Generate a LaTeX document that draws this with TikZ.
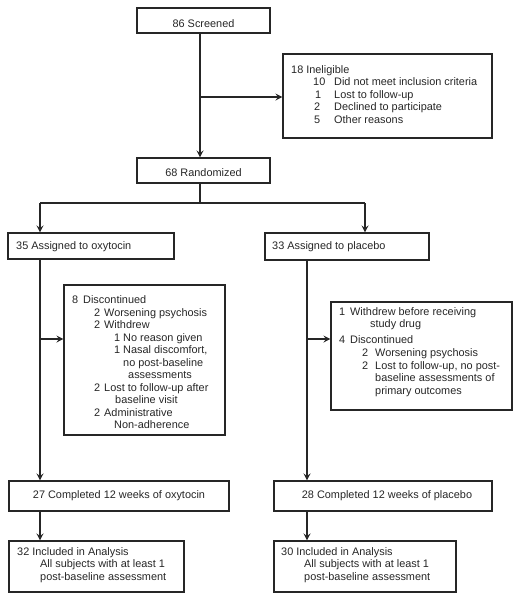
\documentclass[tikz,border=0pt]{standalone}
\usepackage{fontspec}
\setmainfont{Liberation Sans}
\usetikzlibrary{arrows.meta}
\begin{document}
\begin{tikzpicture}[x=1pt,y=-1pt,
  box/.style={draw=black!85,line width=1.1pt,inner sep=0pt,minimum width=#1},
  txt/.style={anchor=base west,inner sep=0pt,font=\fontsize{10.9}{12}\selectfont,text=black!85},
  ctxt/.style={anchor=base,inner sep=0pt,font=\fontsize{10.9}{12}\selectfont,text=black!85},
  conn/.style={draw=black!85,line width=1.1pt},
  arr/.style={conn,-{Stealth[length=7pt,width=7pt,inset=2.5pt]}}]
\useasboundingbox (0,0) rectangle (525,600);
% boxes
\node[box=133pt,minimum height=25pt] (scr) at (203.5,20.5) {};
\node[box=209pt,minimum height=84pt] (inel) at (387.5,96) {};
\node[box=133pt,minimum height=25pt] (rand) at (203.5,170.5) {};
\node[box=166pt,minimum height=26pt] (oxy) at (91,246) {};
\node[box=164pt,minimum height=27pt] (plc) at (347,246.5) {};
\node[box=161pt,minimum height=150pt] (disc) at (144.5,360) {};
\node[box=181pt,minimum height=108pt] (pdisc) at (421.5,356) {};
\node[box=220pt,minimum height=30pt] (coxy) at (119,496) {};
\node[box=218pt,minimum height=30pt] (cplc) at (383,496) {};
\node[box=175pt,minimum height=51pt] (ioxy) at (96.5,566.5) {};
\node[box=182pt,minimum height=51pt] (iplc) at (365,566.5) {};
% coordinates
\coordinate (s1) at (200,33);
\coordinate (sj) at (200,97);
\coordinate (r1) at (200,183);
\coordinate (rj) at (200,203);
\coordinate (lj) at (40,203);
\coordinate (rr) at (365,203);
\coordinate (o1) at (40,259);
\coordinate (oj) at (40,339);
\coordinate (p1) at (307,260);
\coordinate (pj) at (307,339);
\coordinate (co1) at (40,511);
\coordinate (cp1) at (307,511);
% connectors
\draw[arr] (s1) -- (s1 |- rand.north);
\draw[arr] (sj) -- (sj -| inel.west);
\draw[conn] (r1) -- (rj);
\draw[arr] (lj) -- (lj |- oxy.north);
\draw[conn] (lj) -- (rr);
\draw[arr] (rr) -- (rr |- plc.north);
\draw[arr] (o1) -- (o1 |- coxy.north);
\draw[arr] (oj) -- (oj -| disc.west);
\draw[arr] (p1) -- (p1 |- cplc.north);
\draw[arr] (pj) -- (pj -| pdisc.west);
\draw[arr] (co1) -- (co1 |- ioxy.north);
\draw[arr] (cp1) -- (cp1 |- iplc.north);
% texts
\node[ctxt] (t1) at (203.5,27) {86 Screened};
\node[txt] (t2) at (291,73) {18 Ineligible};
\node[txt] (t3a) at (313,85.5) {10};
\node[txt] (t3b) at (334,85.5) {Did not meet inclusion criteria};
\node[txt] (t4a) at (315,98) {1};
\node[txt] (t4b) at (334,98) {Lost to follow-up};
\node[txt] (t5a) at (314,110.5) {2};
\node[txt] (t5b) at (334,110.5) {Declined to participate};
\node[txt] (t6a) at (314,123) {5};
\node[txt] (t6b) at (334,123) {Other reasons};
\node[ctxt] (t7) at (203.5,176) {68 Randomized};
\node[txt] (t8) at (16,249) {35 Assigned to oxytocin};
\node[txt] (t9) at (272,249) {33 Assigned to placebo};
% oxytocin discontinued
\node[txt] (d1a) at (72,303) {8};
\node[txt] (d1b) at (83,303) {Discontinued};
\node[txt] (d2a) at (94,316) {2};
\node[txt] (d2b) at (104,316) {Worsening psychosis};
\node[txt] (d3a) at (94,328.5) {2};
\node[txt] (d3b) at (104,328.5) {Withdrew};
\node[txt] (d4a) at (114,341) {1};
\node[txt] (d4b) at (123,341) {No reason given};
\node[txt] (d5a) at (114,353.5) {1};
\node[txt] (d5b) at (123,353.5) {Nasal discomfort,};
\node[txt] (d6) at (123,366) {no post-baseline};
\node[txt] (d7) at (128,378.5) {assessments};
\node[txt] (d8a) at (94,391) {2};
\node[txt] (d8b) at (104,391) {Lost to follow-up after};
\node[txt] (d9) at (115,403.5) {baseline visit};
\node[txt] (d10a) at (94,416) {2};
\node[txt] (d10b) at (104,416) {Administrative};
\node[txt] (d11) at (114,428.5) {Non-adherence};
% placebo discontinued
\node[txt] (q1a) at (339,315) {1};
\node[txt] (q1b) at (350,315) {Withdrew before receiving};
\node[txt] (q2) at (370,327.5) {study drug};
\node[txt] (q3a) at (339,343) {4};
\node[txt] (q3b) at (350,343) {Discontinued};
\node[txt] (q4a) at (362,356.5) {2};
\node[txt] (q4b) at (375,356.5) {Worsening psychosis};
\node[txt] (q5a) at (362,369) {2};
\node[txt] (q5b) at (375,369) {Lost to follow-up, no post-};
\node[txt] (q6) at (375,381.5) {baseline assessments of};
\node[txt] (q7) at (375,394) {primary outcomes};
% completed
\node[ctxt] (c1) at (119,498.5) {27 Completed 12 weeks of oxytocin};
\node[ctxt] (c2) at (387,498.5) {28 Completed 12 weeks of placebo};
% included
\node[txt] (i1) at (17,555) {32 Included in Analysis};
\node[txt] (i2) at (40,567.5) {All subjects with at least 1};
\node[txt] (i3) at (40,580) {post-baseline assessment};
\node[txt] (j1) at (281,555) {30 Included in Analysis};
\node[txt] (j2) at (304,567.5) {All subjects with at least 1};
\node[txt] (j3) at (304,580) {post-baseline assessment};
\end{tikzpicture}
\end{document}
